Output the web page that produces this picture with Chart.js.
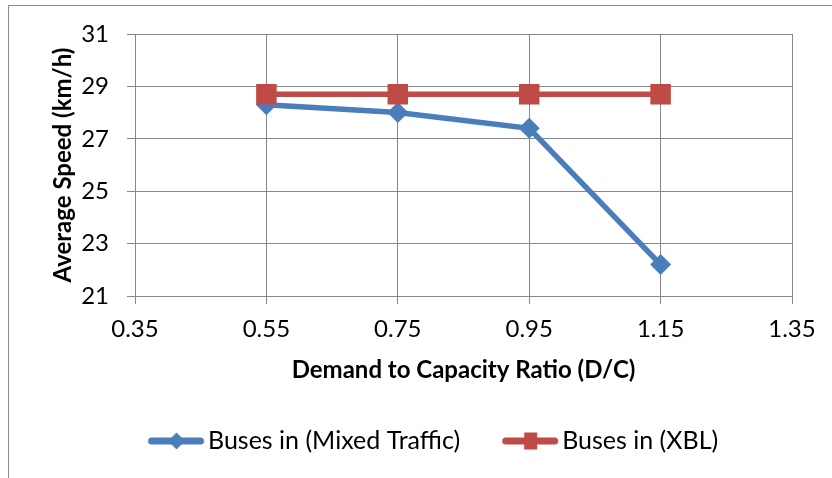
<!DOCTYPE html>
<html>
<head>
<meta charset="utf-8">
<script src="https://cdn.jsdelivr.net/npm/chart.js@4.4.1/dist/chart.umd.min.js"></script>
<style>
  html, body { margin: 0; padding: 0; background: #ffffff; }
  #wrap { width: 832px; height: 478px; position: relative; }
</style>
</head>
<body>
<div id="wrap"><canvas id="chart" width="832" height="478"></canvas></div>
<script>
// Demand-to-capacity ratios and the average bus speeds measured at each
const dcRatio = [0.55, 0.75, 0.95, 1.15];
const mixedTraffic = [28.3, 28.0, 27.4, 22.2];
const xblLane = [28.7, 28.7, 28.7, 28.7];
const seriesNames = ['Buses in (Mixed Traffic)', 'Buses in (XBL)'];
const xTitle = 'Demand to Capacity Ratio (D/C)';
const yTitle = 'Average Speed (km/h)';
const xRange = [0.35, 1.35];
const xStep = 0.2;
const yRange = [21, 31];
const yStep = 2;

const BLUE = '#4a7ebb';
const RED = '#be4b48';
const GRID = '#878787';
const FONT = 'Lato, "Open Sans", sans-serif';
const TICK_SIZE = 24;
const TITLE_SIZE = 24;
const LEGEND_SIZE = 25;

// Legend swatch: a short thick line with the series marker on it
function swatch(color, marker) {
  const c = document.createElement('canvas');
  c.width = 66; c.height = 24;
  const g = c.getContext('2d');
  g.strokeStyle = color; g.lineWidth = 7; g.lineCap = 'round';
  g.beginPath(); g.moveTo(12.75, 12); g.lineTo(61.75, 12); g.stroke();
  g.fillStyle = color;
  const cx = 37.75;
  if (marker === 'diamond') {
    g.beginPath();
    g.moveTo(cx, 3.5); g.lineTo(cx + 8.5, 12); g.lineTo(cx, 20.5); g.lineTo(cx - 8.5, 12);
    g.closePath(); g.fill();
  } else {
    g.fillRect(cx - 6.5, 3.5, 13, 17);
  }
  return c;
}
const swatches = [swatch(BLUE, 'diamond'), swatch(RED, 'square')];

// Outer frame of the chart object
const frame = {
  id: 'frame',
  beforeDraw(chart) {
    const ctx = chart.ctx;
    ctx.save();
    ctx.strokeStyle = '#8c8c8c';
    ctx.lineWidth = 1;
    ctx.beginPath();
    ctx.moveTo(8.5, chart.height);
    ctx.lineTo(8.5, 5.5);
    ctx.lineTo(chart.width, 5.5);
    ctx.stroke();
    ctx.restore();
  }
};

// Put the legend row below the axis title, starting at a fixed left edge
const LEGEND_X = 148;
const LEGEND_Y = 441;
const placeLegend = {
  id: 'placeLegend',
  afterLayout(chart) {
    const lg = chart.legend;
    const pad = lg.options.labels.padding;
    lg.left = LEGEND_X - pad;
    lg.right = lg.left + 900;
    lg.top = LEGEND_Y - pad - lg.options.labels.font.size / 2;
    lg.bottom = chart.height;
  }
};

const toXY = (xs, ys) => xs.map((x, i) => ({ x, y: ys[i] }));

new Chart(document.getElementById('chart'), {
  type: 'line',
  data: {
    datasets: [
      {
        label: seriesNames[0],
        data: toXY(dcRatio, mixedTraffic),
        borderColor: BLUE,
        backgroundColor: BLUE,
        borderWidth: 5.5,
        pointStyle: 'rectRot',
        pointRadius: 10.5,
        pointBorderWidth: 0,
        tension: 0,
        order: 1
      },
      {
        label: seriesNames[1],
        data: toXY(dcRatio, xblLane),
        borderColor: RED,
        backgroundColor: RED,
        borderWidth: 5.5,
        pointStyle: 'rect',
        pointRadius: 14.5,
        pointBorderWidth: 0,
        tension: 0,
        order: 0
      }
    ]
  },
  options: {
    responsive: false,
    animation: false,
    devicePixelRatio: 1,
    layout: { padding: { top: 34, right: 40, bottom: 0, left: 0 } },
    scales: {
      x: {
        type: 'linear',
        min: xRange[0],
        max: xRange[1],
        afterFit(scale) { scale.height = 122; },
        ticks: {
          stepSize: xStep,
          color: '#000',
          padding: 11,
          font: { family: FONT, size: TICK_SIZE },
          callback: (v) => Number(v).toFixed(2)
        },
        grid: { color: GRID, lineWidth: 1, tickLength: 8 },
        border: { color: GRID, width: 1 },
        title: {
          display: true,
          text: xTitle,
          color: '#000',
          font: { family: FONT, size: TITLE_SIZE, weight: 'bold' },
          padding: { top: 0, bottom: 33 }
        }
      },
      y: {
        min: yRange[0],
        max: yRange[1],
        afterFit(scale) { scale.width = 135; },
        ticks: {
          stepSize: yStep,
          color: '#000',
          padding: 18,
          font: { family: FONT, size: TICK_SIZE }
        },
        grid: { color: GRID, lineWidth: 1, tickLength: 8 },
        border: { color: GRID, width: 1 },
        title: {
          display: true,
          text: yTitle,
          color: '#000',
          font: { family: FONT, size: TITLE_SIZE, weight: 'bold' },
          padding: { top: 48.5, bottom: 0 }
        }
      }
    },
    plugins: {
      tooltip: { enabled: false },
      legend: {
        position: 'bottom',
        align: 'start',
        maxHeight: 60,
        labels: {
          usePointStyle: true,
          pointStyleWidth: 47.5,
          padding: 42,
          color: '#000',
          font: { family: FONT, size: LEGEND_SIZE },
          sort: (a, b) => a.datasetIndex - b.datasetIndex,
          generateLabels(chart) {
            const items = Chart.defaults.plugins.legend.labels.generateLabels(chart);
            items.forEach((it) => { it.pointStyle = swatches[it.datasetIndex]; });
            return items;
          }
        }
      }
    }
  },
  plugins: [frame, placeLegend]
});
</script>
</body>
</html>
